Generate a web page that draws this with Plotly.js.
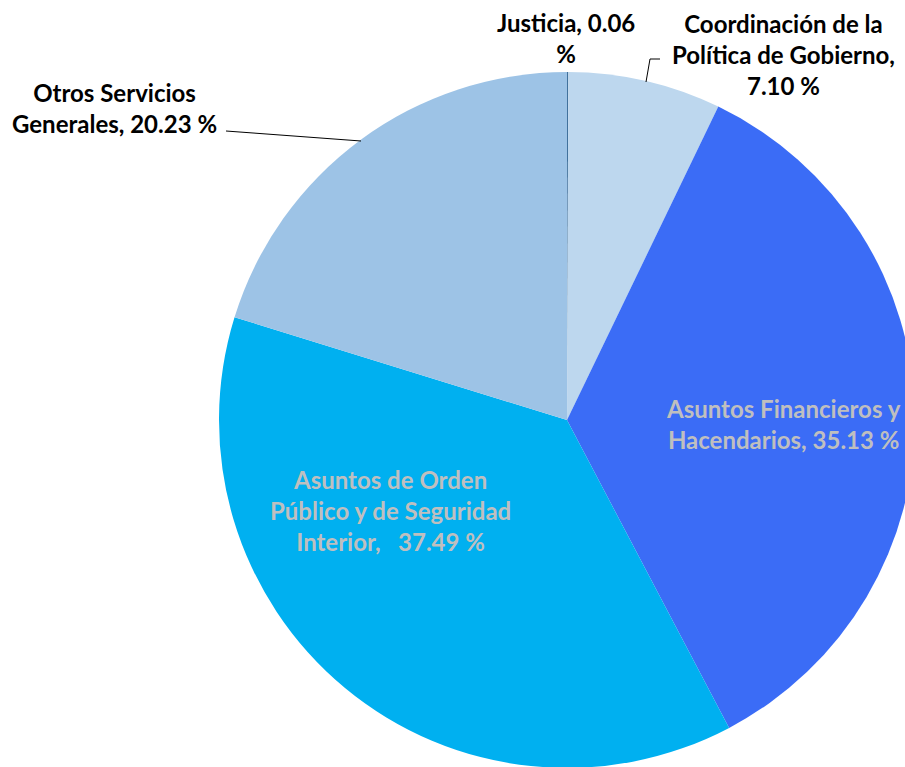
<!DOCTYPE html>
<html>
<head>
<meta charset="utf-8">
<script src="https://cdn.plot.ly/plotly-3.0.1.min.js"></script>
<style>
  html, body { margin: 0; padding: 0; overflow: hidden; background: #fff; }
</style>
</head>
<body>
<div id="chart"></div>
<script>
// Pie data, clockwise from 12 o'clock
let labels = [
    'Justicia',
    'Coordinación de la Política de Gobierno',
    'Asuntos Financieros y Hacendarios',
    'Asuntos de Orden Público y de Seguridad Interior',
    'Otros Servicios Generales'
];
let values = [0.06, 7.10, 35.13, 37.49, 20.23];
let colors = ['#41719C', '#BDD7EE', '#3B6CF6', '#00B0F0', '#9DC3E6'];

// Label text as laid out in the original (line breaks)
let labelLines = [
    ['Justicia, 0.06', '%'],
    ['Coordinación de la', 'Política de Gobierno,', '{v} %'],
    ['Asuntos Financieros y', 'Hacendarios, {v} %'],
    ['Asuntos de Orden', 'Público y de Seguridad', 'Interior,   {v} %'],
    ['Otros Servicios', 'Generales, {v} %']
];

// Page is a bit larger than the window so the pie can run off the edge
let W = 920, H = 775;
let cx = 567, cy = 420, r = 348;

function px(x, y) {
    return [x / W, 1 - y / H];
}

// label centres (pixels) and colour per slice
let labelPos = [[566, 38], [783, 54], [783, 424], [390, 511], [114, 108]];
let labelColor = ['#000000', '#000000', '#BFBFBF', '#BFBFBF', '#000000'];

let annotations = labels.map((l, i) => {
    let p = px(labelPos[i][0], labelPos[i][1]);
    let txt = labelLines[i].map(s => '<b>' + s.replace('{v}', values[i].toFixed(2)) + '</b>').join('<br>');
    return {
        x: p[0], y: p[1], xref: 'paper', yref: 'paper',
        text: txt, showarrow: false,
        xanchor: 'center', yanchor: 'middle',
        font: { family: 'Lato, "Open Sans", sans-serif', size: 24, color: labelColor[i] }
    };
});

// leader lines for the two outside labels
function pathOf(pts) {
    return pts.map((q, k) => {
        let p = px(q[0], q[1]);
        return (k === 0 ? 'M ' : 'L ') + p[0] + ',' + p[1];
    }).join(' ');
}
let shapes = [
    { type: 'path', xref: 'paper', yref: 'paper', path: pathOf([[226, 131], [361, 141]]),
      line: { color: '#000', width: 1 } },
    { type: 'path', xref: 'paper', yref: 'paper', path: pathOf([[660, 59], [650, 59], [646, 82]]),
      line: { color: '#000', width: 1 } }
];

let trace = {
    type: 'pie',
    labels: labels,
    values: values,
    sort: false,
    direction: 'clockwise',
    rotation: 0,
    textinfo: 'none',
    hoverinfo: 'label+percent',
    marker: { colors: colors, line: { width: 0 } },
    domain: {
        x: [(cx - r) / W, (cx + r) / W],
        y: [(H - (cy + r)) / H, (H - (cy - r)) / H]
    },
    showlegend: false
};

let layout = {
    width: W,
    height: H,
    margin: { l: 0, r: 0, t: 0, b: 0, pad: 0 },
    paper_bgcolor: '#ffffff',
    showlegend: false,
    annotations: annotations,
    shapes: shapes
};

Plotly.newPlot('chart', [trace], layout, { displayModeBar: false, staticPlot: true });
</script>
</body>
</html>
